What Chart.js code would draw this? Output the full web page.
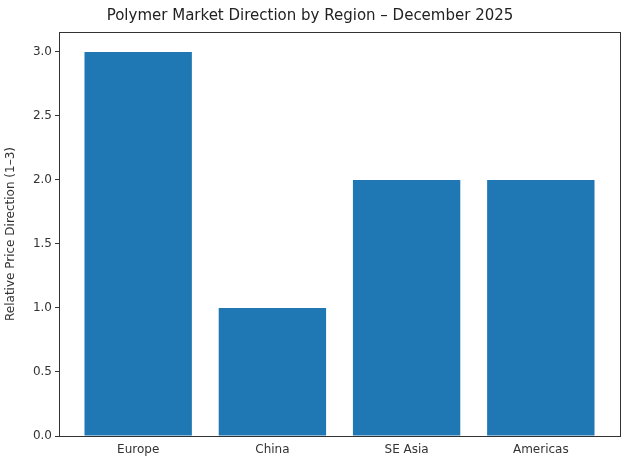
<!DOCTYPE html>
<html>
<head>
<meta charset="utf-8">
<script src="https://cdn.jsdelivr.net/npm/chart.js@4"></script>
<style>
  html, body { margin: 0; padding: 0; background: #fff; }
  #wrap { width: 630px; height: 470px; }
</style>
</head>
<body>
<div id="wrap"><canvas id="myChart"></canvas></div>
<script>
// Daten
const regions = ['Europe', 'China', 'SE Asia', 'Americas'];
const direction = [3, 1, 2, 2];

// Rahmen um die Plotfläche wie bei matplotlib
const boxPlugin = {
    id: 'box',
    afterDraw(chart) {
        const a = chart.chartArea, c = chart.ctx;
        c.save();
        c.strokeStyle = '#333';
        c.lineWidth = 1;
        c.strokeRect(a.left + 0.5, a.top + 0.5, a.right - a.left, a.bottom - a.top);
        c.restore();
    }
};

Chart.defaults.font.family = 'DejaVu Sans';
Chart.defaults.color = '#333';

const ctx = document.getElementById('myChart').getContext('2d');
new Chart(ctx, {
    type: 'bar',
    data: {
        datasets: [{
            label: 'Direction',
            data: direction.map((v, i) => ({ x: i, y: v })),
            backgroundColor: '#1f77b4',
            categoryPercentage: 1,
            barPercentage: 0.8
        }]
    },
    options: {
        responsive: true,
        maintainAspectRatio: false,
        animation: false,
        layout: { padding: { left: 0, right: 10, top: 0, bottom: 0 } },
        plugins: {
            legend: { display: false },
            tooltip: { enabled: false },
            title: {
                display: true,
                text: 'Polymer Market Direction by Region – December 2025',
                color: '#222',
                font: { size: 15, weight: 'normal' },
                padding: { top: 7, bottom: 7 }
            }
        },
        scales: {
            x: {
                type: 'linear',
                min: -0.59,
                max: 3.59,
                offset: false,
                grid: { display: false, drawOnChartArea: false, drawTicks: true, tickLength: 4, color: '#333' },
                border: { color: '#333' },
                afterBuildTicks(s) { s.ticks = regions.map((r, i) => ({ value: i })); },
                ticks: {
                    font: { size: 12 },
                    color: '#333',
                    callback: v => regions[v]
                },
                afterFit(s) { s.height = 34; }
            },
            y: {
                min: 0,
                max: 3.156,
                grid: { drawOnChartArea: false, tickLength: 4, color: '#333' },
                border: { color: '#333' },
                ticks: {
                    stepSize: 0.5,
                    font: { size: 12 },
                    color: '#333',
                    callback: v => (v % 0.5 === 0 ? v.toFixed(1) : null)
                },
                title: {
                    display: true,
                    text: 'Relative Price Direction (1–3)',
                    font: { size: 12 },
                    color: '#333'
                },
                afterFit(s) { s.width = 59; }
            }
        }
    },
    plugins: [boxPlugin]
});
</script>
</body>
</html>
